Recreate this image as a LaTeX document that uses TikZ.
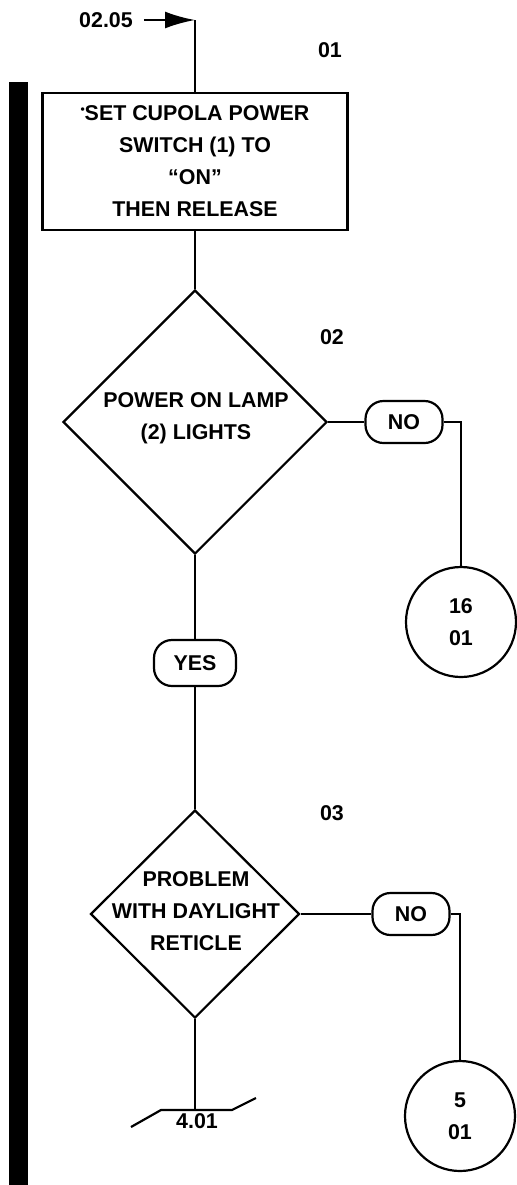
\documentclass[tikz,border=0pt]{standalone}
\usepackage{fontspec}
\setmainfont{Liberation Sans}
\usetikzlibrary{arrows.meta,shapes.geometric}

\begin{document}
\begin{tikzpicture}[x=0.5pt, y=-0.5pt, line width=1.1pt, >={Latex[length=15pt,width=8.5pt]},
  every node/.style={font=\fontsize{10.7}{16}\selectfont\bfseries, align=center, inner sep=0pt},
  actbox/.style={draw, minimum width=152.5pt, minimum height=68.5pt},
  decide/.style={draw, diamond, inner sep=0pt},
  answer/.style={draw, rounded corners=9pt, minimum width=38.5pt, minimum height=21pt},
  target/.style={draw, circle, minimum size=55pt}]
  \useasboundingbox (0,0) rectangle (517,1185);
  \fill (9,82) rectangle (28,1185);
  % step 01
  \node (src) at (106,20) {02.05};
  \coordinate (corner) at (195,20);
  \node[actbox] (set) at (195,161.5) {{\fontsize{6}{6}\selectfont\raisebox{3.5pt}{•}}SET CUPOLA POWER\\SWITCH (1) TO\\``ON''\\THEN RELEASE};
  \node at (330,50) {01};
  \draw[->, shorten <=5pt] (src) -- (corner);
  \draw (corner) -- (set);
  % step 02
  \node[decide, minimum width=132pt, minimum height=132pt] (lamp) at (195,422) {};
  \node at (196,418) {POWER ON LAMP\\(2) LIGHTS};
  \node at (332,337) {02};
  \node[answer] (no1) at (404,422) {NO};
  \node[target] (c16) at (461,622) {16\\01};
  \node[answer, minimum width=41pt, minimum height=23pt] (yes) at (195,663) {YES};
  \draw (set) -- (lamp);
  \draw (lamp) -- (no1);
  \draw (no1) -| (c16);
  \draw (lamp) -- (yes);
  % step 03
  \node[decide, minimum width=104.5pt, minimum height=104pt] (reticle) at (195,914) {};
  \node at (196,911) {PROBLEM\\WITH DAYLIGHT\\RETICLE};
  \node at (332,813) {03};
  \node[answer] (no2) at (411,914) {NO};
  \node[target] (c5) at (460,1116) {5\\01};
  \coordinate (goto) at (195,1110);
  \draw (yes) -- (reticle);
  \draw (reticle) -- (no2);
  \draw (no2) -| (c5);
  \draw (reticle) -- (goto);
  \draw (131,1127) -- (161,1110) -- (232,1110) -- (256,1098);
  \node at (197,1121) {4.01};
\end{tikzpicture}
\end{document}
